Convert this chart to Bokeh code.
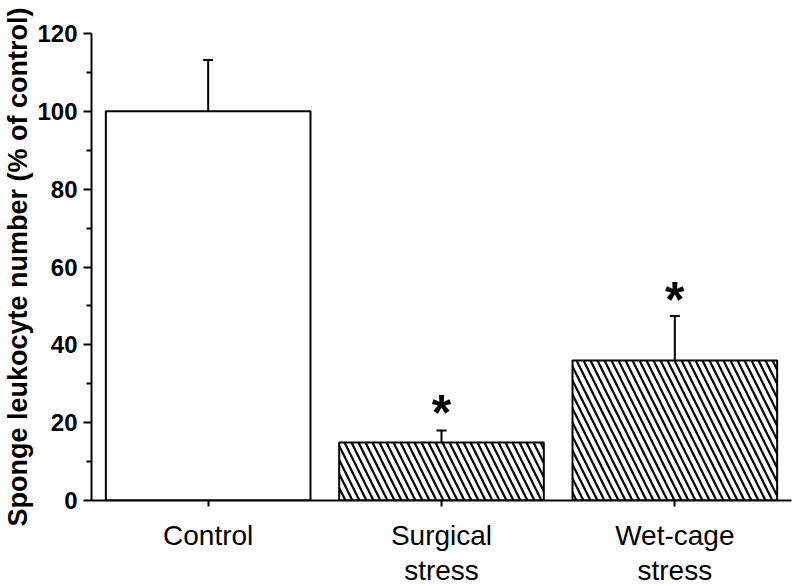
from bokeh.plotting import figure
from bokeh.models import ColumnDataSource, Whisker, TeeHead, Range1d, FixedTicker, LinearAxis
from bokeh.core.properties import value
from bokeh.embed import file_html
from bokeh.resources import INLINE

categories = ["Control", "Surgical stress", "Wet-cage stress"]
means = [100.0, 14.9, 36.0]
upper = [113.2, 18.0, 47.4]
hatches = ["", "\\", "\\"]
star_index = [1, 2]
star_y = [22.5, 51.5]

# numeric slot positions of the categories (one unit per category)
pos = [i + 0.5 for i in range(len(categories))]
src = ColumnDataSource(dict(x=pos, cat=categories, mean=means, upper=upper, hatch=hatches))

p = figure(x_range=Range1d(0, len(categories)), y_range=Range1d(0, 120), output_backend="svg",
           toolbar_location=None, frame_width=700, frame_height=467, min_border_left=91,
           min_border_right=1, min_border_top=33, min_border_bottom=86,
           background_fill_color="white", border_fill_color="white")
p.outline_line_color = None
p.grid.visible = False

p.vbar(x="x", top="mean", width=0.877, source=src, fill_color="white", line_color="black",
       line_width=2, hatch_pattern="hatch", hatch_color="black", hatch_weight=2.2, hatch_scale=14)

w = Whisker(base="x", upper="upper", lower="mean", source=src, line_color="black", line_width=2,
            upper_head=TeeHead(size=10, line_width=2, line_color="black"), lower_head=None)
p.add_layout(w)

p.text(x=[pos[i] for i in star_index], y=star_y, text=["*", "*"], text_align="center",
       text_baseline="middle", text_font=value("Liberation Sans"), text_font_style="bold",
       text_font_size="50px", text_color="black")

p.yaxis.ticker = FixedTicker(ticks=[0, 20, 40, 60, 80, 100, 120], minor_ticks=[10, 30, 50, 70, 90, 110])
p.yaxis.axis_label = "Sponge leukocyte number (% of control)"
p.yaxis.axis_label_text_font = "Liberation Sans"
p.yaxis.axis_label_text_font_style = "bold"
p.yaxis.axis_label_text_font_size = "27px"
p.yaxis.axis_label_standoff = 1
p.yaxis.major_label_text_font = "Liberation Sans"
p.yaxis.major_label_text_font_style = "bold"
p.yaxis.major_label_text_font_size = "24px"
p.yaxis.major_label_standoff = 6
p.yaxis.major_tick_out = 8
p.yaxis.major_tick_in = 0
p.yaxis.minor_tick_out = 5
p.yaxis.minor_tick_in = 0
p.yaxis.major_label_text_color = "black"
p.yaxis.axis_label_text_color = "black"
p.yaxis.axis_line_width = 2
p.yaxis.major_tick_line_width = 2
p.yaxis.minor_tick_line_width = 2

first = {pos[i]: c.split(" ")[0] for i, c in enumerate(categories)}
second = {pos[i]: " ".join(c.split(" ")[1:]) for i, c in enumerate(categories) if " " in c}

xa = p.xaxis[0]
xa.ticker = FixedTicker(ticks=pos, minor_ticks=[])
xa.major_label_overrides = first
xa.axis_line_width = 2
xa.axis_line_color = "black"
xa.major_tick_line_width = 2
xa.major_tick_line_color = "black"
xa.minor_tick_line_color = None
xa.major_tick_out = 6
xa.major_tick_in = 0
xa.major_label_standoff = 13
xa.major_label_text_font = "Liberation Sans"
xa.major_label_text_font_size = "28px"
xa.major_label_text_color = "black"

ax2 = LinearAxis(ticker=FixedTicker(ticks=list(second.keys()), minor_ticks=[]),
                 major_label_overrides=second, axis_line_color=None, major_tick_line_color=None,
                 minor_tick_line_color=None, major_tick_out=0, major_tick_in=0,
                 major_label_standoff=1, major_label_text_font="Liberation Sans",
                 major_label_text_font_size="28px", major_label_text_color="black")
p.add_layout(ax2, "below")

open("out.html", "w").write(file_html(p, INLINE))
